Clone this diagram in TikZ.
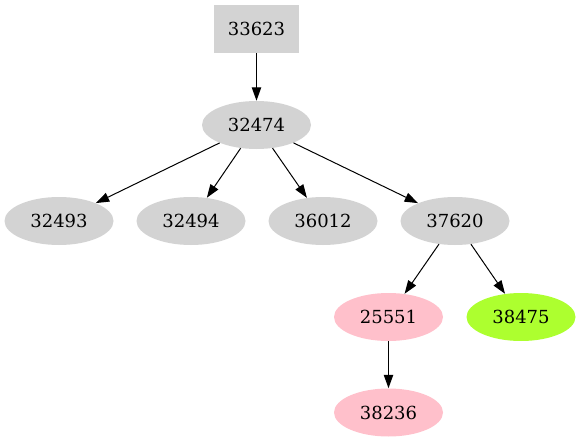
\documentclass[tikz,border=0pt]{standalone}
\usepackage{fontspec}
\setmainfont{DejaVu Serif}
\usetikzlibrary{shapes.geometric,arrows.meta}
\definecolor{lgray}{HTML}{D3D3D3}
\definecolor{pinkc}{HTML}{FFC0CB}
\definecolor{gyc}{HTML}{ADFF2F}
\begin{document}
\begin{tikzpicture}[x=0.75pt,y=-0.75pt,
  every node/.style={font=\fontsize{13.5pt}{16pt}\selectfont, inner sep=0pt},
  ell/.style={ellipse, fill=lgray, minimum width=81.75pt, minimum height=36pt},
  boxn/.style={rectangle, fill=lgray, minimum width=63.75pt, minimum height=36pt},
  edge/.style={-{Triangle[length=10pt,width=7pt]}, line width=0.75pt}]
\useasboundingbox (0,0) rectangle (579,443);
\node[boxn] (n33623) at (256.5,29) {33623};
\node[ell] (n32474) at (256.5,125) {32474};
\node[ell] (n32493) at (59,221) {32493};
\node[ell] (n32494) at (191,221) {32494};
\node[ell] (n36012) at (323,221) {36012};
\node[ell] (n37620) at (455,221) {37620};
\node[ell, fill=pinkc] (n25551) at (388.5,317) {25551};
\node[ell, fill=gyc] (n38475) at (521,317) {38475};
\node[ell, fill=pinkc] (n38236) at (388.5,412.5) {38236};
\draw[edge] (n33623) -- (n32474);
\draw[edge] (n32474) -- (n32493);
\draw[edge] (n32474) -- (n32494);
\draw[edge] (n32474) -- (n36012);
\draw[edge] (n32474) -- (n37620);
\draw[edge] (n37620) -- (n25551);
\draw[edge] (n37620) -- (n38475);
\draw[edge] (n25551) -- (n38236);
\end{tikzpicture}
\end{document}
